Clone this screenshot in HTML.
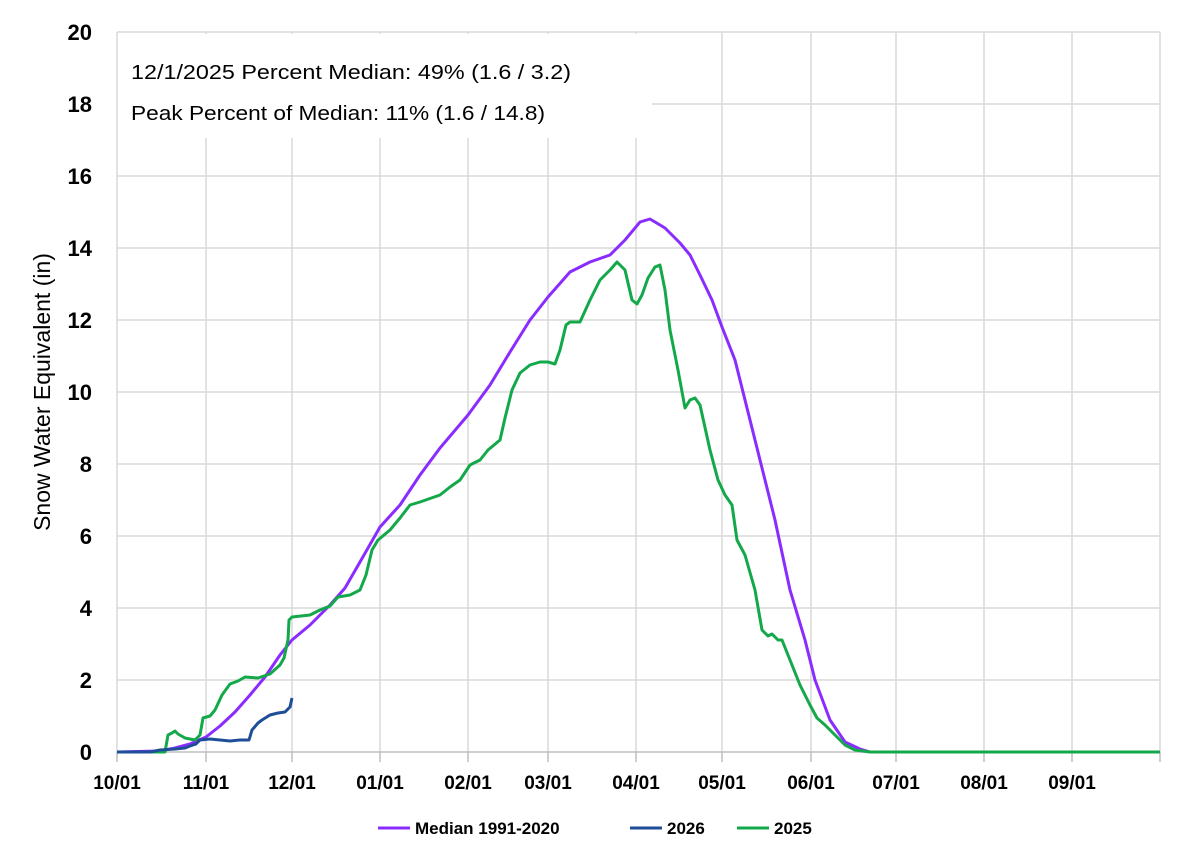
<!DOCTYPE html>
<html><head><meta charset="utf-8"><style>
body{margin:0;background:#fff;}
svg text{font-family:"Liberation Sans",Arial,sans-serif;}
</style></head><body>
<svg width="1200" height="863" viewBox="0 0 1200 863" xmlns="http://www.w3.org/2000/svg">
<rect width="1200" height="863" fill="#fff"/>
<g stroke="#d9d9d9" stroke-width="1.5">
<line x1="117" y1="32" x2="1160" y2="32"/><line x1="117" y1="104" x2="1160" y2="104"/>
<line x1="117" y1="176" x2="1160" y2="176"/><line x1="117" y1="248" x2="1160" y2="248"/>
<line x1="117" y1="320" x2="1160" y2="320"/><line x1="117" y1="392" x2="1160" y2="392"/>
<line x1="117" y1="464" x2="1160" y2="464"/><line x1="117" y1="536" x2="1160" y2="536"/>
<line x1="117" y1="608" x2="1160" y2="608"/><line x1="117" y1="680" x2="1160" y2="680"/>
<line x1="117" y1="32" x2="117" y2="752"/>
<line x1="206" y1="32" x2="206" y2="752"/><line x1="292" y1="32" x2="292" y2="752"/>
<line x1="380" y1="32" x2="380" y2="752"/><line x1="468" y1="32" x2="468" y2="752"/>
<line x1="548" y1="32" x2="548" y2="752"/><line x1="636" y1="32" x2="636" y2="752"/>
<line x1="722" y1="32" x2="722" y2="752"/><line x1="811" y1="32" x2="811" y2="752"/>
<line x1="896" y1="32" x2="896" y2="752"/><line x1="984" y1="32" x2="984" y2="752"/>
<line x1="1072" y1="32" x2="1072" y2="752"/><line x1="1160" y1="32" x2="1160" y2="752"/>
</g>
<line x1="117" y1="752" x2="1160" y2="752" stroke="#bfbfbf" stroke-width="1.5"/>
<g stroke="#bfbfbf" stroke-width="1.5">
<line x1="117" y1="752" x2="117" y2="762"/><line x1="206" y1="752" x2="206" y2="762"/><line x1="292" y1="752" x2="292" y2="762"/><line x1="380" y1="752" x2="380" y2="762"/><line x1="468" y1="752" x2="468" y2="762"/><line x1="548" y1="752" x2="548" y2="762"/><line x1="636" y1="752" x2="636" y2="762"/><line x1="722" y1="752" x2="722" y2="762"/><line x1="811" y1="752" x2="811" y2="762"/><line x1="896" y1="752" x2="896" y2="762"/><line x1="984" y1="752" x2="984" y2="762"/><line x1="1072" y1="752" x2="1072" y2="762"/><line x1="1160" y1="752" x2="1160" y2="762"/>
</g>
<rect x="118" y="34" width="534" height="104" fill="#fff"/>
<text x="131" y="79" font-size="20" fill="#000" textLength="440" lengthAdjust="spacingAndGlyphs">12/1/2025 Percent Median: 49% (1.6 / 3.2)</text>
<text x="131" y="120" font-size="20" fill="#000" textLength="414" lengthAdjust="spacingAndGlyphs">Peak Percent of Median: 11% (1.6 / 14.8)</text>
<g font-size="22" font-weight="bold" text-anchor="end" fill="#000">
<text x="92" y="40">20</text><text x="92" y="112">18</text><text x="92" y="184">16</text><text x="92" y="256">14</text><text x="92" y="328">12</text><text x="92" y="400">10</text><text x="92" y="472">8</text><text x="92" y="544">6</text><text x="92" y="616">4</text><text x="92" y="688">2</text><text x="92" y="760">0</text>
</g>
<g font-size="19" font-weight="bold" text-anchor="middle" fill="#000">
<text x="117" y="789">10/01</text><text x="206" y="789">11/01</text><text x="292" y="789">12/01</text><text x="380" y="789">01/01</text><text x="468" y="789">02/01</text><text x="548" y="789">03/01</text><text x="636" y="789">04/01</text><text x="722" y="789">05/01</text><text x="811" y="789">06/01</text><text x="896" y="789">07/01</text><text x="984" y="789">08/01</text><text x="1072" y="789">09/01</text>
</g>
<text transform="translate(50,392) rotate(-90)" font-size="23" text-anchor="middle" fill="#000">Snow Water Equivalent (in)</text>
<g fill="none" stroke-width="3" stroke-linejoin="round">
<polyline stroke="#8b2cff" points="117,752 160,751 175,748 190,744 206,737 220,726 235,712 250,695 265,677 280,655 292,640 310,625 330,605 345,588 360,562 380,527 400,505 420,475 440,448 468,415 490,385 510,352 530,320 548,297 570,272 590,262 610,255 625,240 640,222 650,219 665,228 680,243 690,255 700,275 712,300 722,327 735,360 745,400 760,460 775,520 790,590 805,640 815,680 830,720 845,742 860,749 870,752 1160,752"/>
<polyline stroke="#13a84a" points="117,752 165,752 168,735 172,733 175,731 178,734 185,738 195,740 200,735 203,718 210,716 215,710 222,695 230,684 238,681 245,677 258,678 270,674 280,665 284,658 288,640 289,620 292,617 310,615 320,610 330,606 338,597 350,595 360,590 366,575 372,550 378,540 390,530 400,518 410,505 420,502 440,495 450,487 460,480 470,465 480,460 488,450 500,440 505,418 512,390 520,373 530,365 540,362 548,362 555,364 560,350 566,325 570,322 580,322 590,300 600,280 610,270 617,262 625,270 632,300 637,304 642,295 648,278 655,267 660,265 665,290 670,330 678,370 685,408 690,400 695,398 700,405 710,450 718,480 725,495 732,505 737,540 745,555 755,590 762,630 768,636 772,634 778,640 782,640 790,660 800,685 810,705 817,718 825,725 835,735 845,745 855,750 870,752 1160,752"/>
<polyline stroke="#1f4e99" points="117,752 150,752 160,750 175,749 185,748 190,746 196,744 200,740 210,739 220,740 230,741 240,740 249,740 252,730 258,723 262,720 270,715 278,713 285,712 290,707 292,698"/>
</g>
<g stroke-width="3">
<line x1="378" y1="828" x2="410" y2="828" stroke="#8b2cff"/>
<line x1="630" y1="828" x2="662" y2="828" stroke="#1f4e99"/>
<line x1="737" y1="828" x2="769" y2="828" stroke="#13a84a"/>
</g>
<g font-size="17" font-weight="bold" fill="#000">
<text x="415" y="834">Median 1991-2020</text>
<text x="667" y="834">2026</text>
<text x="774" y="834">2025</text>
</g>
</svg>
</body></html>
